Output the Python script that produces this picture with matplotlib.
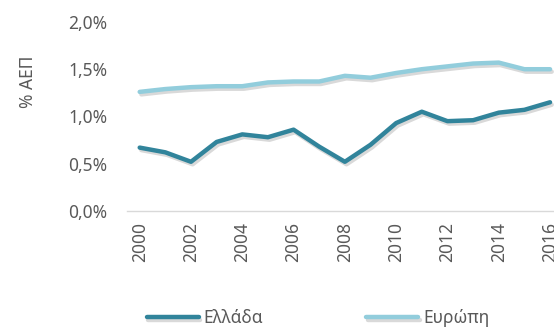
import numpy as np
import matplotlib
matplotlib.use("Agg")
import matplotlib.pyplot as plt
import matplotlib.patheffects as pe
from matplotlib.ticker import FuncFormatter, MultipleLocator

years = list(range(2000, 2017))
greece = [0.67, 0.62, 0.52, 0.73, 0.81, 0.78, 0.86, 0.68, 0.52, 0.70,
          0.93, 1.05, 0.95, 0.96, 1.04, 1.07, 1.15]
europe = [1.26, 1.29, 1.31, 1.32, 1.32, 1.36, 1.37, 1.37, 1.43, 1.41,
          1.46, 1.50, 1.53, 1.56, 1.57, 1.50, 1.50]
series_names = ["Ελλάδα", "Ευρώπη"]
y_label = "% ΑΕΠ"

plt.rcParams['font.family'] = ['Noto Sans', 'DejaVu Sans']
grey = "#595959"

fig = plt.figure(figsize=(5.54, 3.28), dpi=100)
ax = fig.add_axes([0.229, 0.357, 0.787, 0.576])

# soft drop shadow under the lines, like the Excel original
shadow = [pe.SimpleLineShadow(offset=(1.2, -1.8), alpha=0.15, shadow_color="black"), pe.Normal()]
ax.plot(years, greece, color="#31849B", lw=3.2, label=series_names[0],
        solid_capstyle="round", solid_joinstyle="round", path_effects=shadow)
ax.plot(years, europe, color="#92CDDC", lw=3.2, label=series_names[1],
        solid_capstyle="round", solid_joinstyle="round", path_effects=shadow)

ax.set_xlim(1999.5, 2016.5)
ax.set_ylim(0, 2.0)
ax.yaxis.set_major_locator(MultipleLocator(0.5))
ax.yaxis.set_major_formatter(FuncFormatter(lambda v, p: ("%.1f%%" % v).replace(".", ",")))
ax.set_xticks(years[::2])
ax.set_xticklabels([str(y) for y in years[::2]], rotation=90)
ax.tick_params(length=0, labelsize=12.5, colors=grey, pad=8)
ax.tick_params(axis="y", pad=14)

for s in ["top", "right", "left"]:
    ax.spines[s].set_visible(False)
ax.spines["bottom"].set_color("#D9D9D9")
ax.spines["bottom"].set_linewidth(1.0)

fig.text(0.05, 0.75, y_label, rotation=90, ha="center", va="center",
         fontsize=12.5, color=grey)

leg = fig.legend(loc="center", bbox_to_anchor=(0.574, 0.03), ncol=2,
                 frameon=False, fontsize=12.5, handlelength=3.0,
                 columnspacing=5.9, handletextpad=0.3)
for t in leg.get_texts():
    t.set_color(grey)

fig.savefig("out.png", dpi=100)
